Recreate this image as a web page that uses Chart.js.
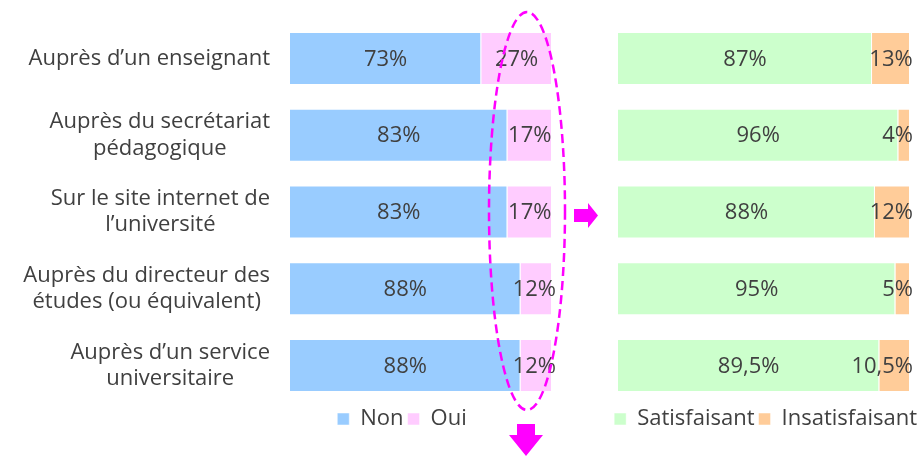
<!DOCTYPE html>
<html>
<head>
<meta charset="utf-8">
<script src="https://cdn.jsdelivr.net/npm/chart.js@4.4.1/dist/chart.umd.min.js"></script>
<style>
  html, body { margin: 0; padding: 0; background: #fff; overflow: hidden; }
  #wrap { position: relative; width: 921px; height: 456px; }
  #gauche { position: absolute; left: 0; top: 0; }
  #droite { position: absolute; left: 600px; top: 0; }
  #annot { position: absolute; left: 0; top: 0; pointer-events: none; }
</style>
</head>
<body>
<div id="wrap">
  <canvas id="gauche" width="804" height="456"></canvas>
  <canvas id="droite" width="321" height="456"></canvas>
  <svg id="annot" width="921" height="456">
    <ellipse cx="527" cy="211" rx="38" ry="199" fill="none" stroke="#ff00ff" stroke-width="2.5" stroke-dasharray="9 5"/>
    <polygon points="574,209 588,209 588,203 598,215.5 588,228 588,222 574,222" fill="#ff00ff"/>
    <polygon points="517,424 535,424 535,435 543,435 526,456 509,435 517,435" fill="#ff00ff"/>
  </svg>
</div>
<script>
// catégories (axe vertical)
var categories = [
  "Auprès d\u2019un enseignant",
  ["Auprès du secrétariat", "pédagogique"],
  ["Sur le site internet de", "l\u2019université"],
  ["Auprès du directeur des", "études (ou équivalent)"],
  ["Auprès d\u2019un service", "universitaire"]
];

// graphique de gauche : a-t-on demandé ?
var non = [73, 83, 83, 88, 88];
var oui = [27, 17, 17, 12, 12];

// graphique de droite : satisfaction
var satisfaisant = [87, 96, 88, 95, 89.5];
var insatisfaisant = [13, 4, 12, 5, 10.5];

var police = '"Open Sans", sans-serif';
var gris = '#404040';

// étiquettes de valeur au centre des barres
var etiquettes = {
  id: 'etiquettes',
  afterDatasetsDraw: function(chart, args, opts) {
    var ctx = chart.ctx;
    ctx.save();
    ctx.font = '22px ' + police;
    ctx.fillStyle = gris;
    ctx.textAlign = 'center';
    ctx.textBaseline = 'middle';
    chart.data.datasets.forEach(function(ds, i) {
      chart.getDatasetMeta(i).data.forEach(function(bar, j) {
        var txt = String(ds.data[j]).replace('.', ',') + '%';
        var w = ctx.measureText(txt).width;
        var x = (bar.base + bar.x) / 2;
        var maxX = chart.chartArea.right + opts.debord - w / 2;
        if (x > maxX) x = maxX;
        ctx.fillText(txt, x, bar.y + 1);
      });
    });
    ctx.restore();
  }
};

// libellés de l'axe y : bloc aligné à droite, lignes centrées entre elles
var libelles = {
  id: 'libelles',
  afterDraw: function(chart, args, opts) {
    var ctx = chart.ctx;
    var sc = chart.scales.y;
    var hLigne = 26.4;
    ctx.save();
    ctx.font = '22px ' + police;
    ctx.fillStyle = gris;
    ctx.textAlign = 'center';
    ctx.textBaseline = 'middle';
    chart.data.labels.forEach(function(lab, j) {
      var lignes = [].concat(lab);
      var maxW = 0;
      lignes.forEach(function(l) { maxW = Math.max(maxW, ctx.measureText(l).width); });
      var cx = sc.right - opts.ecart - maxW / 2;
      var y0 = sc.getPixelForTick(j) - (lignes.length - 1) * hLigne / 2;
      lignes.forEach(function(l, k) { ctx.fillText(l, cx, y0 + k * hLigne); });
    });
    ctx.restore();
  }
};

// largeur fixe des axes (et pas de marge auto pour les libellés)
function largeur(w) {
  return function(s) { s.width = w; s.paddingTop = 0; s.paddingBottom = 0; };
}

Chart.defaults.font.family = police;
Chart.defaults.color = gris;
Chart.defaults.animation = false;
Chart.defaults.responsive = false;

var ctx = document.getElementById("gauche");
var graphGauche = new Chart(ctx, {
  type: 'bar',
  data: {
    labels: categories,
    datasets: [{
        label: 'Non',
        data: non,
        backgroundColor: '#99ccff',
        borderColor: 'rgba(255,255,255,0.5)',
        borderWidth: 1,
        categoryPercentage: 1,
        barPercentage: 0.69
      }, {
        label: 'Oui',
        data: oui,
        backgroundColor: '#ffccff',
        borderColor: 'rgba(255,255,255,0.5)',
        borderWidth: 1,
        categoryPercentage: 1,
        barPercentage: 0.69
    }]
  },
  options: {
    indexAxis: 'y',
    layout: { padding: { left: 0, right: 0, top: 20, bottom: 16 } },
    scales: {
      x: { stacked: true, min: 0, max: 100, display: false },
      y: {
        stacked: true,
        grid: { display: false, drawTicks: false },
        border: { display: false },
        ticks: { display: false },
        afterFit: largeur(290)
      },
      y2: {
        position: 'right',
        grid: { display: false, drawTicks: false },
        border: { display: false },
        ticks: { display: false },
        afterFit: largeur(252)
      }
    },
    plugins: {
      legend: {
        position: 'bottom',
        labels: { boxWidth: 12, boxHeight: 12, padding: 4, color: gris, font: { size: 22 } }
      },
      tooltip: { enabled: false },
      etiquettes: { debord: 4 },
      libelles: { ecart: 20 }
    }
  },
  plugins: [etiquettes, libelles]
});

var ctx = document.getElementById("droite");
var graphDroite = new Chart(ctx, {
  type: 'bar',
  data: {
    labels: categories,
    datasets: [{
        label: 'Satisfaisant',
        data: satisfaisant,
        backgroundColor: '#ccffcc',
        borderColor: 'rgba(255,255,255,0.5)',
        borderWidth: 1,
        categoryPercentage: 1,
        barPercentage: 0.69
      }, {
        label: 'Insatisfaisant',
        data: insatisfaisant,
        backgroundColor: '#ffcc99',
        borderColor: 'rgba(255,255,255,0.5)',
        borderWidth: 1,
        categoryPercentage: 1,
        barPercentage: 0.69
    }]
  },
  options: {
    indexAxis: 'y',
    layout: { padding: { left: 0, right: 0, top: 20, bottom: 16 } },
    scales: {
      x: { stacked: true, min: 0, max: 100, display: false },
      y: {
        stacked: true,
        grid: { display: false, drawTicks: false },
        border: { display: false },
        ticks: { display: false },
        afterFit: largeur(18)
      },
      y2: {
        position: 'right',
        grid: { display: false, drawTicks: false },
        border: { display: false },
        ticks: { display: false },
        afterFit: largeur(11)
      }
    },
    plugins: {
      legend: {
        position: 'bottom',
        align: 'end',
        labels: { boxWidth: 12, boxHeight: 12, padding: 4, color: gris, font: { size: 22 } }
      },
      tooltip: { enabled: false },
      etiquettes: { debord: 3 }
    }
  },
  plugins: [etiquettes]
});
</script>
</body>
</html>
